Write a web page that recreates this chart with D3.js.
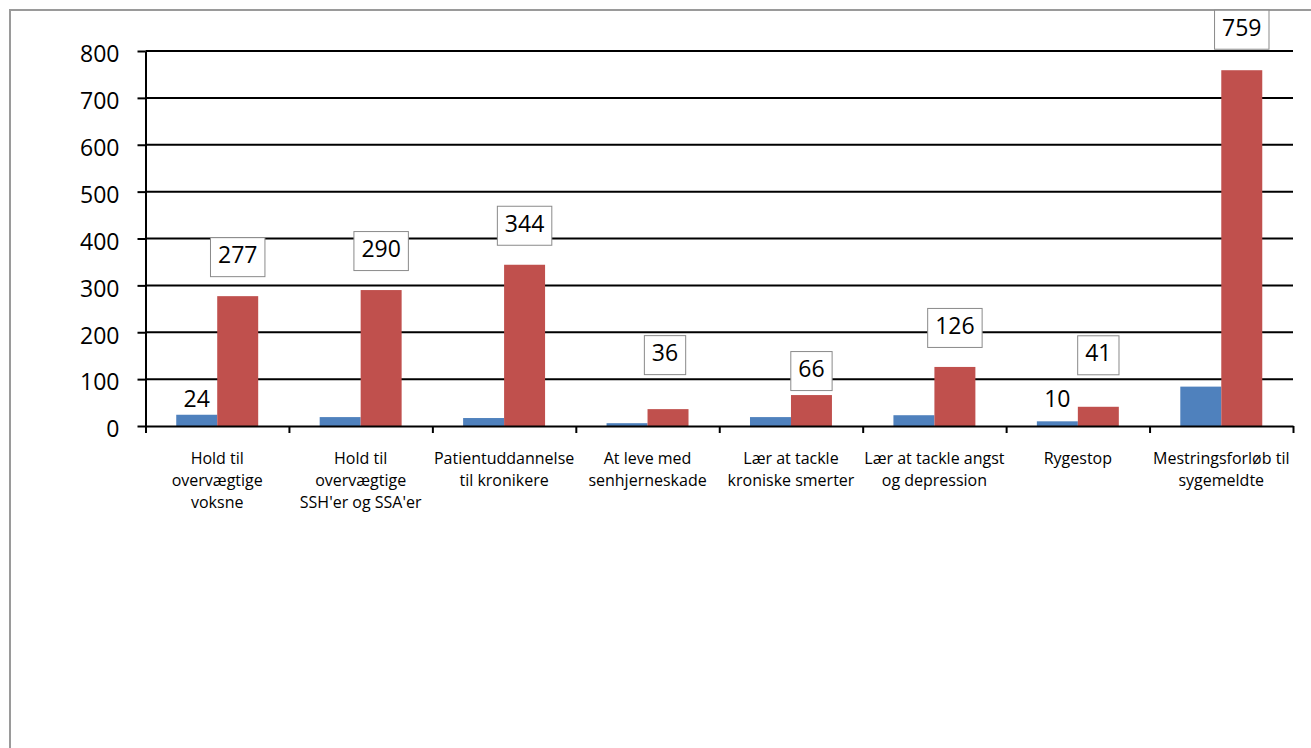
<!DOCTYPE html>
<html>
<head>
<meta charset="utf-8">
<script src="https://cdn.jsdelivr.net/npm/d3@7"></script>
<style>
  html, body { margin: 0; padding: 0; background: #fff; }
  svg { display: block; }
  text { font-family: "Open Sans", "Noto Sans", sans-serif; fill: #000; }
</style>
</head>
<body>
<svg id="chart" width="1311" height="748"></svg>
<script>
// Course categories (line breaks as shown under the axis)
const categories = [
  "Hold til\novervægtige\nvoksne",
  "Hold til\novervægtige\nSSH'er og SSA'er",
  "Patientuddannelse\ntil kronikere",
  "At leve med\nsenhjerneskade",
  "Lær at tackle\nkroniske smerter",
  "Lær at tackle angst\nog depression",
  "Rygestop",
  "Mestringsforløb til\nsygemeldte"
];
const seriesBlue = [24, 19, 17, 6, 19, 23, 10, 84];
const seriesRed = [277, 290, 344, 36, 66, 126, 41, 759];
// Which blue values carry a label
const blueLabelShown = [true, false, false, false, false, false, true, false];
const yTicks = [0, 100, 200, 300, 400, 500, 600, 700, 800];

// Hand-placed label offsets (px)
const redLabelNudgeY = [0, 0, 0, -15, 15, 0, -12.5, -1.5];
const redLabelNudgeX = [0, 0, 0, -3, 0, 0, 0, 0];
const blueLabelNudgeY = [0, 0, 0, 0, 0, 0, -6.6, 0];

const colors = { blue: "#4F81BD", red: "#C0504D" };

const svg = d3.select("#chart");
const plot = { left: 145.5, right: 1293, top: 51, bottom: 426 };

// Outer frame
svg.append("rect")
  .attr("x", 10).attr("y", 10)
  .attr("width", 1400).attr("height", 900)
  .attr("fill", "none").attr("stroke", "#9a9a9a").attr("stroke-width", 2);

const y = d3.scaleLinear().domain([0, 800]).range([plot.bottom, plot.top]);
const x0 = d3.scaleBand().domain(d3.range(categories.length))
  .range([plot.left, plot.right]).paddingInner(0).paddingOuter(0);
const x1 = d3.scaleBand().domain(["blue", "red"])
  .range([0, x0.bandwidth()]).paddingInner(0).paddingOuter(0.75);

// Horizontal grid lines
svg.append("g").selectAll("line").data(yTicks.filter(t => t > 0)).join("line")
  .attr("x1", plot.left).attr("x2", plot.right)
  .attr("y1", d => y(d)).attr("y2", d => y(d))
  .attr("stroke", "#000").attr("stroke-width", 2);

// Y axis
const yAxis = svg.append("g")
  .attr("transform", `translate(${plot.left},0)`)
  .call(d3.axisLeft(y).tickValues(yTicks).tickSizeInner(8).tickSizeOuter(0).tickPadding(18));
yAxis.select(".domain").attr("stroke", "#000").attr("stroke-width", 2);
yAxis.selectAll(".tick line").attr("stroke", "#000").attr("stroke-width", 2);
yAxis.selectAll(".tick text")
  .attr("font-size", 23).attr("font-family", "'Open Sans', sans-serif")
  .attr("fill", "#000").attr("dy", "0.47em");

// Bars
const groups = svg.append("g").selectAll("g").data(categories).join("g")
  .attr("transform", (d, i) => `translate(${x0(i)},0)`);
groups.append("rect")
  .attr("x", x1("blue")).attr("width", x1.bandwidth())
  .attr("y", (d, i) => y(seriesBlue[i]))
  .attr("height", (d, i) => y(0) - y(seriesBlue[i]))
  .attr("fill", colors.blue);
groups.append("rect")
  .attr("x", x1("red")).attr("width", x1.bandwidth())
  .attr("y", (d, i) => y(seriesRed[i]))
  .attr("height", (d, i) => y(0) - y(seriesRed[i]))
  .attr("fill", colors.red);

// X axis with boundary ticks
const xb = d3.scaleLinear().domain([0, categories.length]).range([plot.left, plot.right]);
const xAxis = svg.append("g")
  .attr("transform", `translate(0,${plot.bottom})`)
  .call(d3.axisBottom(xb).tickValues(d3.range(categories.length + 1))
    .tickSizeInner(7).tickSizeOuter(0).tickFormat(""));
xAxis.select(".domain").attr("stroke", "#000").attr("stroke-width", 2);
xAxis.selectAll(".tick line").attr("stroke", "#000").attr("stroke-width", 2);

// Category labels
const catLabels = svg.append("g").selectAll("text").data(categories).join("text")
  .attr("text-anchor", "middle").attr("font-size", 16)
  .attr("x", (d, i) => x0(i) + x0.bandwidth() / 2)
  .attr("y", 464);
catLabels.each(function(d) {
  const t = d3.select(this);
  d.split("\n").forEach((line, k) => {
    t.append("tspan").attr("x", t.attr("x")).attr("dy", k === 0 ? 0 : 22).text(line);
  });
});

// Blue value labels
svg.append("g").selectAll("text")
  .data(seriesBlue.map((v, i) => ({ v, i })).filter(d => blueLabelShown[d.i]))
  .join("text")
  .attr("text-anchor", "middle").attr("font-size", 23)
  .attr("x", d => x0(d.i) + x1("blue") + x1.bandwidth() / 2)
  .attr("y", d => y(d.v) - 7.4 + blueLabelNudgeY[d.i])
  .text(d => d.v);

// Red value labels in boxes
const boxH = 39, gap = 19.5;
const redLab = svg.append("g").selectAll("g")
  .data(seriesRed.map((v, i) => ({ v, i })))
  .join("g")
  .attr("transform", d => {
    const cx = x0(d.i) + x1("red") + x1.bandwidth() / 2 + redLabelNudgeX[d.i];
    const bottom = y(d.v) - gap + redLabelNudgeY[d.i];
    return `translate(${cx},${bottom - boxH / 2})`;
  });
const rects = redLab.append("rect")
  .attr("fill", "#fff").attr("stroke", "#8a8a8a").attr("stroke-width", 1);
const rtexts = redLab.append("text")
  .attr("text-anchor", "middle").attr("font-size", 23)
  .attr("y", 6).text(d => d.v);
redLab.each(function() {
  const g = d3.select(this);
  const w = g.select("text").node().getBBox().width + 15;
  g.select("rect").attr("x", -w / 2).attr("y", -boxH / 2).attr("width", w).attr("height", boxH);
});
</script>
</body>
</html>
